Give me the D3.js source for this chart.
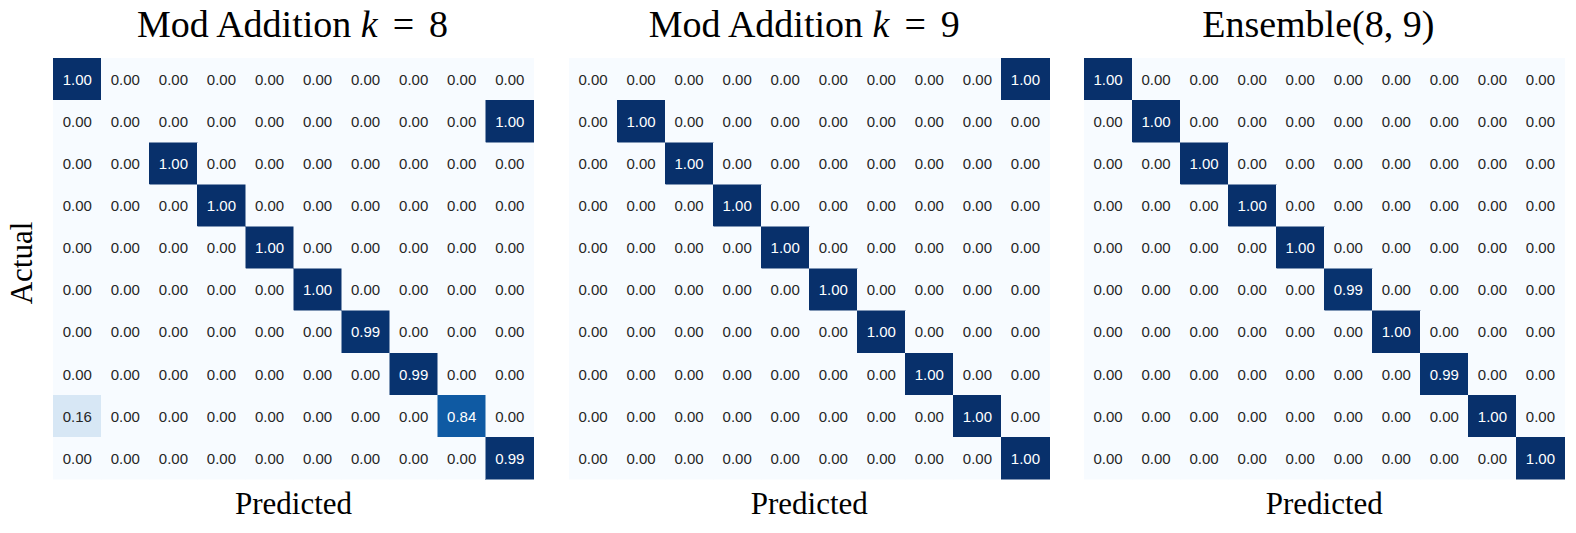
<!DOCTYPE html>
<html>
<head>
<meta charset="utf-8">
<script src="https://cdn.jsdelivr.net/npm/d3@7"></script>
<style>
  html, body { margin: 0; padding: 0; background: #fff; }
  svg { display: block; }
</style>
</head>
<body>
<svg id="chart" width="1576" height="533"></svg>
<script>
// ---- data ----
const classes = [0, 1, 2, 3, 4, 5, 6, 7, 8, 9];
const titles = [
  { pre: "Mod Addition ", it: "k", rel: "=", num: "8" },
  { pre: "Mod Addition ", it: "k", rel: "=", num: "9" },
  { pre: "Ensemble(8, 9)", it: "", rel: "", num: "" }
];
// nonzero cells per panel: [row (actual), col (predicted), value]
const cellsK8 = [
  [0, 0, 1.00], [1, 9, 1.00], [2, 2, 1.00], [3, 3, 1.00], [4, 4, 1.00],
  [5, 5, 1.00], [6, 6, 0.99], [7, 7, 0.99], [8, 0, 0.16], [8, 8, 0.84], [9, 9, 0.99]
];
const cellsK9 = [
  [0, 9, 1.00], [1, 1, 1.00], [2, 2, 1.00], [3, 3, 1.00], [4, 4, 1.00],
  [5, 5, 1.00], [6, 6, 1.00], [7, 7, 1.00], [8, 8, 1.00], [9, 9, 1.00]
];
const cellsEns = [
  [0, 0, 1.00], [1, 1, 1.00], [2, 2, 1.00], [3, 3, 1.00], [4, 4, 1.00],
  [5, 5, 0.99], [6, 6, 1.00], [7, 7, 0.99], [8, 8, 1.00], [9, 9, 1.00]
];
const panelsData = [cellsK8, cellsK9, cellsEns];
const xLabel = "Predicted";
const yLabel = "Actual";
const bluesStops = ["#f7fbff","#deebf7","#c6dbef","#9ecae1","#6baed6","#4292c6","#2171b5","#08519c","#08306b"];

// ---- layout ----
const panelLeft = [53.3, 569, 1084];
const panelW = 480.5, panelTop = 58.3, panelH = 421;
const titleShift = [-1, -5, -6];

const svg = d3.select("#chart");
const color = d3.scaleLinear()
  .domain(d3.range(bluesStops.length).map(i => i / (bluesStops.length - 1)))
  .range(bluesStops)
  .interpolate(d3.interpolateRgb)
  .clamp(true);

function luminance(c) {
  const rgb = d3.rgb(c);
  const f = v => { v /= 255; return v <= 0.03928 ? v / 12.92 : Math.pow((v + 0.055) / 1.055, 2.4); };
  return 0.2126 * f(rgb.r) + 0.7152 * f(rgb.g) + 0.0722 * f(rgb.b);
}

const serif = "'Liberation Serif', 'Times New Roman', serif";

panelsData.forEach((cells, p) => {
  const matrix = [];
  classes.forEach(r => classes.forEach(c => matrix.push({ r, c, v: 0 })));
  cells.forEach(([r, c, v]) => { matrix[r * classes.length + c].v = v; });
  const vmax = d3.max(matrix, d => d.v), vmin = d3.min(matrix, d => d.v);
  const norm = d3.scaleLinear().domain([vmin, vmax]).range([0, 1]);

  const x = d3.scaleBand().domain(classes).range([panelLeft[p], panelLeft[p] + panelW]);
  const y = d3.scaleBand().domain(classes).range([panelTop, panelTop + panelH]);

  const g = svg.append("g");
  g.selectAll("rect").data(matrix).join("rect")
    .attr("x", d => x(d.c))
    .attr("y", d => y(d.r))
    .attr("width", x.bandwidth())
    .attr("height", y.bandwidth())
    .attr("fill", d => color(norm(d.v)))
    .attr("stroke", d => color(norm(d.v)))
    .attr("stroke-width", 0.5)
    .attr("shape-rendering", "crispEdges");

  g.selectAll("text.cell").data(matrix).join("text")
    .attr("class", "cell")
    .attr("x", d => x(d.c) + x.bandwidth() / 2)
    .attr("y", d => y(d.r) + y.bandwidth() / 2)
    .attr("text-anchor", "middle")
    .attr("dominant-baseline", "central")
    .attr("font-family", "'Liberation Sans', Arial, Helvetica, sans-serif")
    .attr("font-size", 15)
    .attr("fill", d => luminance(color(norm(d.v))) > 0.408 ? "#262626" : "#ffffff")
    .text(d => d.v.toFixed(2));

  // title
  const cx = panelLeft[p] + panelW / 2;
  const t = svg.append("text")
    .attr("x", cx + titleShift[p])
    .attr("y", 37)
    .attr("text-anchor", "middle")
    .attr("font-family", serif)
    .attr("font-size", 38)
    .attr("fill", "#000");
  t.append("tspan").text(titles[p].pre);
  if (titles[p].it) t.append("tspan").attr("font-style", "italic").text(titles[p].it);
  if (titles[p].rel) t.append("tspan").attr("dx", 15).text(titles[p].rel);
  if (titles[p].num) t.append("tspan").attr("dx", 15).text(titles[p].num);

  // x label
  svg.append("text")
    .attr("x", cx)
    .attr("y", 514)
    .attr("text-anchor", "middle")
    .attr("font-family", serif)
    .attr("font-size", 31)
    .attr("fill", "#000")
    .text(xLabel);
});

// y label (only first panel)
svg.append("text")
  .attr("transform", "translate(32,263) rotate(-90)")
  .attr("text-anchor", "middle")
  .attr("font-family", serif)
  .attr("font-size", 31)
  .attr("fill", "#000")
  .text(yLabel);
</script>
</body>
</html>
